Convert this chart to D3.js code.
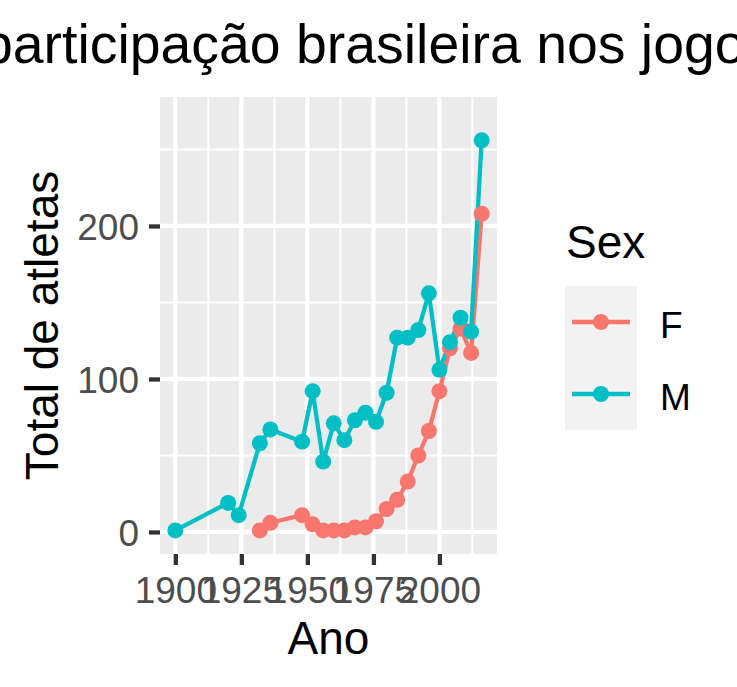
<!DOCTYPE html>
<html>
<head>
<meta charset="utf-8">
<script src="https://cdn.jsdelivr.net/npm/d3@7"></script>
<style>
  body { margin: 0; background: #fff; }
  svg { display: block; font-family: "Liberation Sans", Arial, sans-serif; }
</style>
</head>
<body>
<svg id="chart" width="737" height="687"></svg>
<script>
// data
const yearsM = [1900, 1920, 1924, 1932, 1936, 1948, 1952, 1956, 1960, 1964, 1968, 1972, 1976, 1980, 1984, 1988, 1992, 1996, 2000, 2004, 2008, 2012, 2016];
const valuesM = [1, 19, 11, 58, 67, 59, 92, 46, 71, 60, 73, 78, 72, 91, 127, 127, 132, 156, 106, 124, 140, 131, 256];
const yearsF = [1932, 1936, 1948, 1952, 1956, 1960, 1964, 1968, 1972, 1976, 1980, 1984, 1988, 1992, 1996, 2000, 2004, 2008, 2012, 2016];
const valuesF = [1, 6, 11, 5, 1, 1, 1, 3, 3, 7, 15, 21, 33, 50, 66, 92, 120, 133, 117, 208];
const sexes = ['F', 'M'];
const colours = ['#F8766D', '#00BFC4'];
const xTicks = [1900, 1925, 1950, 1975, 2000];
const xMinor = [1912.5, 1937.5, 1962.5, 1987.5, 2012.5];
const yTicks = [0, 100, 200];
const yMinor = [50, 150, 250];

const series = [
    { sex: 'F', pts: yearsF.map((y, i) => ({ year: y, n: valuesF[i] })) },
    { sex: 'M', pts: yearsM.map((y, i) => ({ year: y, n: valuesM[i] })) }
];

const svg = d3.select('#chart');
const panel = { left: 160, right: 497, top: 97, bottom: 554 };
const lw = 4.27;   // ggplot 0.5 line at this resolution
const ptR = 8;
const tickFont = 37, titleFont = 46;

const x = d3.scaleLinear().domain([1894.2, 2021.8]).range([panel.left, panel.right]);
const y = d3.scaleLinear().domain([-14.4, 284.3]).range([panel.bottom, panel.top]);
const colour = d3.scaleOrdinal().domain(sexes).range(colours);

// panel background
svg.append('rect')
    .attr('x', panel.left).attr('y', panel.top)
    .attr('width', panel.right - panel.left).attr('height', panel.bottom - panel.top)
    .attr('fill', '#EBEBEB');

const grid = svg.append('g').attr('stroke', '#fff');
grid.selectAll('.ymin').data(yMinor).enter().append('line')
    .attr('x1', panel.left).attr('x2', panel.right)
    .attr('y1', d => y(d)).attr('y2', d => y(d))
    .attr('stroke-width', lw / 2);
grid.selectAll('.xmin').data(xMinor).enter().append('line')
    .attr('y1', panel.top).attr('y2', panel.bottom)
    .attr('x1', d => x(d)).attr('x2', d => x(d))
    .attr('stroke-width', lw / 2);
grid.selectAll('.ymaj').data(yTicks).enter().append('line')
    .attr('x1', panel.left).attr('x2', panel.right)
    .attr('y1', d => y(d)).attr('y2', d => y(d))
    .attr('stroke-width', lw);
grid.selectAll('.xmaj').data(xTicks).enter().append('line')
    .attr('y1', panel.top).attr('y2', panel.bottom)
    .attr('x1', d => x(d)).attr('x2', d => x(d))
    .attr('stroke-width', lw);

// axes
const xAxis = svg.append('g')
    .attr('transform', `translate(0,${panel.bottom})`)
    .call(d3.axisBottom(x).tickValues(xTicks).tickFormat(d3.format('d')).tickSize(11).tickPadding(12));
const yAxis = svg.append('g')
    .attr('transform', `translate(${panel.left},0)`)
    .call(d3.axisLeft(y).tickValues(yTicks).tickSize(11).tickPadding(10));
[xAxis, yAxis].forEach(a => {
    a.select('.domain').remove();
    a.selectAll('line').attr('stroke', '#333333').attr('stroke-width', lw);
    a.selectAll('text').attr('fill', '#4D4D4D').attr('font-size', tickFont)
        .attr('font-family', '"Liberation Sans", Arial, sans-serif');
});
yAxis.selectAll('text').attr('dy', '0.36em');

// lines then points
const line = d3.line().x(d => x(d.year)).y(d => y(d.n));
svg.append('g').selectAll('path').data(series).enter().append('path')
    .attr('d', d => line(d.pts))
    .attr('fill', 'none')
    .attr('stroke', d => colour(d.sex))
    .attr('stroke-width', lw)
    .attr('stroke-linejoin', 'round');
series.forEach(s => {
    svg.append('g').selectAll('circle').data(s.pts).enter().append('circle')
        .attr('cx', d => x(d.year)).attr('cy', d => y(d.n))
        .attr('r', ptR)
        .attr('fill', colour(s.sex));
});

// titles
svg.append('text')
    .attr('x', -18).attr('y', 63)
    .attr('font-size', 55.4)
    .attr('fill', '#000')
    .text('participação brasileira nos jogos');

svg.append('text')
    .attr('x', (panel.left + panel.right) / 2).attr('y', 654)
    .attr('text-anchor', 'middle')
    .attr('font-size', titleFont)
    .text('Ano');

svg.append('text')
    .attr('transform', `translate(58,${(panel.top + panel.bottom) / 2}) rotate(-90)`)
    .attr('text-anchor', 'middle')
    .attr('font-size', titleFont)
    .text('Total de atletas');

// legend
const leg = svg.append('g').attr('transform', 'translate(565,0)');
leg.append('text').attr('x', 1).attr('y', 258).attr('font-size', titleFont).text('Sex');
const keys = leg.selectAll('.key').data(sexes).enter().append('g')
    .attr('transform', (d, i) => `translate(0,${286 + i * 72})`);
keys.append('rect').attr('width', 72).attr('height', 72).attr('fill', '#F2F2F2');
keys.append('line')
    .attr('x1', 7).attr('x2', 65).attr('y1', 36).attr('y2', 36)
    .attr('stroke', d => colour(d)).attr('stroke-width', lw);
keys.append('circle').attr('cx', 36).attr('cy', 36).attr('r', ptR).attr('fill', d => colour(d));
keys.append('text')
    .attr('x', 95).attr('y', 52)
    .attr('font-size', tickFont)
    .text(d => d);
</script>
</body>
</html>
